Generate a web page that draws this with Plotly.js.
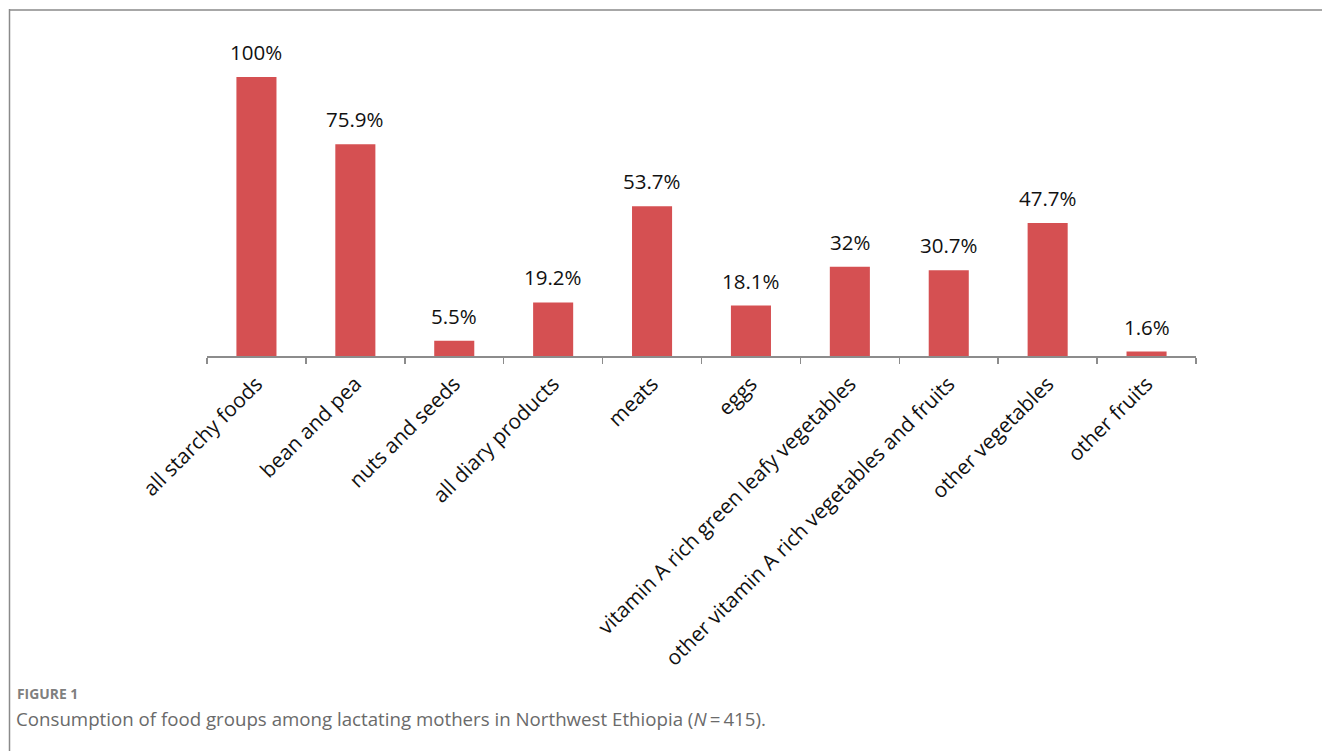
<!DOCTYPE html>
<html>
<head>
<meta charset="utf-8">
<script src="https://cdn.plot.ly/plotly-3.0.1.min.js"></script>
<style>
  html, body { margin: 0; padding: 0; background: #ffffff; }
  #chart { width: 1322px; height: 751px; }
</style>
</head>
<body>
<div id="chart"></div>
<script>
const categories = [
  "all starchy foods",
  "bean and pea",
  "nuts and seeds",
  "all diary products",
  "meats",
  "eggs",
  "vitamin A rich green leafy vegetables",
  "other vitamin A rich vegetables and fruits",
  "other vegetables",
  "other fruits"
];
const percentValues = [100, 75.9, 5.5, 19.2, 53.7, 18.1, 32, 30.7, 47.7, 1.6];
const valueLabels = ["100%", "75.9%", "5.5%", "19.2%", "53.7%", "18.1%", "32%", "30.7%", "47.7%", "1.6%"];
const figureLabel = "FIGURE 1";
const captionText = "Consumption of food groups among lactating mothers in Northwest Ethiopia (<i>N</i>\u2009=\u2009415).";

// layout geometry (pixels)
const W = 1322, H = 751;
const L = 207, R = 126, T = 77, B = 395;
const plotW = W - L - R, plotH = H - T - B;
const px2x = px => (px - L) / plotW;
const py2y = py => (H - B - py) / plotH;

const barColor = "#D55052";
const axisColor = "#8c8c8c";

const trace = {
  type: "bar",
  x: categories,
  y: percentValues,
  marker: { color: barColor, line: { width: 0 } },
  hoverinfo: "skip"
};

const annotations = categories.map((c, i) => ({
  x: c, y: percentValues[i], xref: "x", yref: "y",
  text: valueLabels[i], showarrow: false,
  xanchor: "center", yanchor: "bottom", yshift: 9,
  font: { family: "Open Sans", size: 20.5, color: "#111111" }
}));

annotations.push({
  xref: "paper", yref: "paper", x: px2x(15), y: py2y(693),
  xanchor: "left", yanchor: "middle", showarrow: false,
  text: "<b>" + figureLabel + "</b>",
  font: { family: "Open Sans", size: 13.9, color: "#7f7f7f" }
});
annotations.push({
  xref: "paper", yref: "paper", x: px2x(14), y: py2y(718),
  xanchor: "left", yanchor: "middle", showarrow: false,
  text: captionText,
  font: { family: "Open Sans", size: 18.7, color: "#6a6a6a" }
});

const shapes = [
  { type: "line", xref: "paper", yref: "paper",
    x0: px2x(9.5), x1: px2x(9.5), y0: py2y(9), y1: py2y(760),
    line: { color: "#8a8a8a", width: 1.5 } },
  { type: "line", xref: "paper", yref: "paper",
    x0: px2x(9), x1: px2x(1330), y0: py2y(10), y1: py2y(10),
    line: { color: "#8a8a8a", width: 1.5 } }
];

const layout = {
  width: W, height: H,
  margin: { l: L, r: R, t: T, b: B, pad: 0 },
  paper_bgcolor: "#ffffff",
  plot_bgcolor: "#ffffff",
  showlegend: false,
  bargap: 0.595,
  font: { family: "Open Sans" },
  xaxis: {
    type: "category",
    showline: true, linecolor: axisColor, linewidth: 1.5,
    ticks: "outside", tickson: "boundaries", ticklen: 6,
    tickcolor: axisColor, tickwidth: 1.5,
    tickangle: -45,
    ticklabelstandoff: 6,
    tickfont: { family: "Open Sans", size: 20.8, color: "#111111" },
    showgrid: false, zeroline: false, fixedrange: true
  },
  yaxis: {
    range: [0, 100], visible: false, showgrid: false, zeroline: false, fixedrange: true
  },
  annotations: annotations,
  shapes: shapes
};

Plotly.newPlot("chart", [trace], layout, { staticPlot: true, displayModeBar: false });
</script>
</body>
</html>
